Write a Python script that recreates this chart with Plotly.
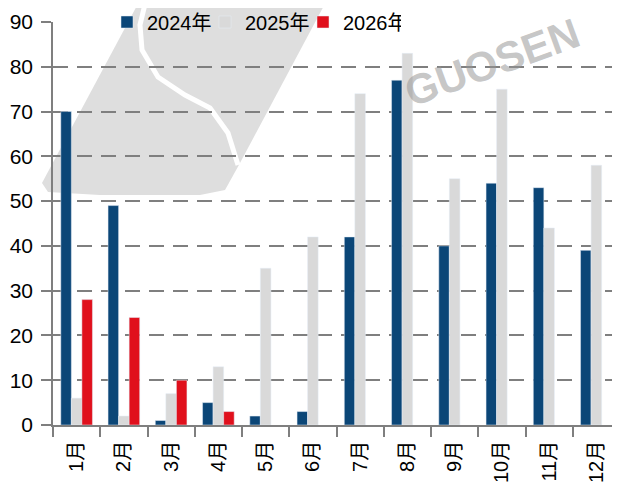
import plotly.graph_objects as go

months = ["1月", "2月", "3月", "4月", "5月", "6月", "7月", "8月", "9月", "10月", "11月", "12月"]
v2024 = [70, 49, 1, 5, 2, 3, 42, 77, 40, 54, 53, 39]
v2025 = [6, 2, 7, 13, 35, 42, 74, 83, 55, 75, 44, 58]
months_2026 = ["1月", "2月", "3月", "4月"]
v2026 = [28, 24, 10, 3]
y_ticks = [0, 10, 20, 30, 40, 50, 60, 70, 80, 90]

FONT = "Liberation Sans, Arial, Noto Sans CJK SC, sans-serif"

OFF = 8  # page body margin
L, R, T, B = 45, 0, 14, 73
W, H = 612, 490
PW, PH = W - L - R, H - T - B


def px(x, y):
    # page pixel -> paper coords
    return (x - OFF - L) / PW, (H - B - (y - OFF)) / PH


def path(points, close=True):
    s = ""
    for i, (x, y) in enumerate(points):
        a, b = px(x, y)
        s += ("M " if i == 0 else " L ") + f"{a:.4f} {b:.4f}"
    return s + (" Z" if close else "")


fig = go.Figure()
fig.add_trace(go.Bar(name="2024年", x=months, y=v2024, marker_color="#0B4677"))
fig.add_trace(go.Bar(name="2025年", x=months, y=v2025, marker_color="#D9D9D9"))
fig.add_trace(go.Bar(name="2026年", x=months_2026, y=v2026, marker_color="#E0101C"))

# decorative watermark
blob = [(42, 183), (140, 0), (327, 0), (240, 163), (225, 190), (200, 195),
        (100, 195), (48, 192)]
fig.add_shape(type="path", xref="paper", yref="paper", layer="below",
              path=path(blob), fillcolor="#DEDEDE", line_width=0)
stripe = [(146, 0), (140, 25), (142, 50), (158, 77), (185, 95), (210, 108),
          (228, 133), (238, 165)]
fig.add_shape(type="path", xref="paper", yref="paper", layer="below",
              path=path(stripe, close=False), line=dict(color="white", width=5))
cx, cy = px(492, 62)
fig.add_annotation(text="GUOSEN", xref="paper", yref="paper",
                   x=cx, y=cy, xanchor="center", yanchor="middle",
                   showarrow=False, textangle=-20,
                   font=dict(family="Liberation Sans", size=42, weight="bold",
                             color="rgba(150,150,150,0.55)"))

fig.update_layout(
    width=W, height=H,
    margin=dict(l=L, r=R, t=T, b=B, autoexpand=False),
    paper_bgcolor="white", plot_bgcolor="rgba(0,0,0,0)",
    barmode="group", bargap=0.33, bargroupgap=0,
    font=dict(family=FONT, size=20, color="#000000"),
    legend=dict(orientation="h", x=(107 - OFF - L) / PW, xanchor="left", y=1.0,
                yanchor="middle", bgcolor="rgba(0,0,0,0)", font=dict(size=20),
                itemwidth=30, entrywidth=53, entrywidthmode="pixels",
                traceorder="normal"),
    xaxis=dict(categoryorder="array", categoryarray=months, automargin=False,
               showline=True, linecolor="#7F7F7F", linewidth=1.5,
               ticks="outside", tickson="boundaries", ticklen=10, tickcolor="#7F7F7F",
               tickwidth=1.5, tickangle=-90, tickfont=dict(size=20),
               ticklabelstandoff=6, showgrid=False),
    yaxis=dict(range=[0, 90], tickvals=y_ticks, automargin=False, showline=True,
               linecolor="#7F7F7F", linewidth=1.5, ticks="outside", ticklen=10,
               tickcolor="#7F7F7F", tickwidth=1.5, tickfont=dict(size=21),
               ticklabelstandoff=4,
               showgrid=True, gridcolor="#7F7F7F", gridwidth=1.5,
               griddash="15px,9px", zeroline=False),
)

fig.write_html("out.html")
